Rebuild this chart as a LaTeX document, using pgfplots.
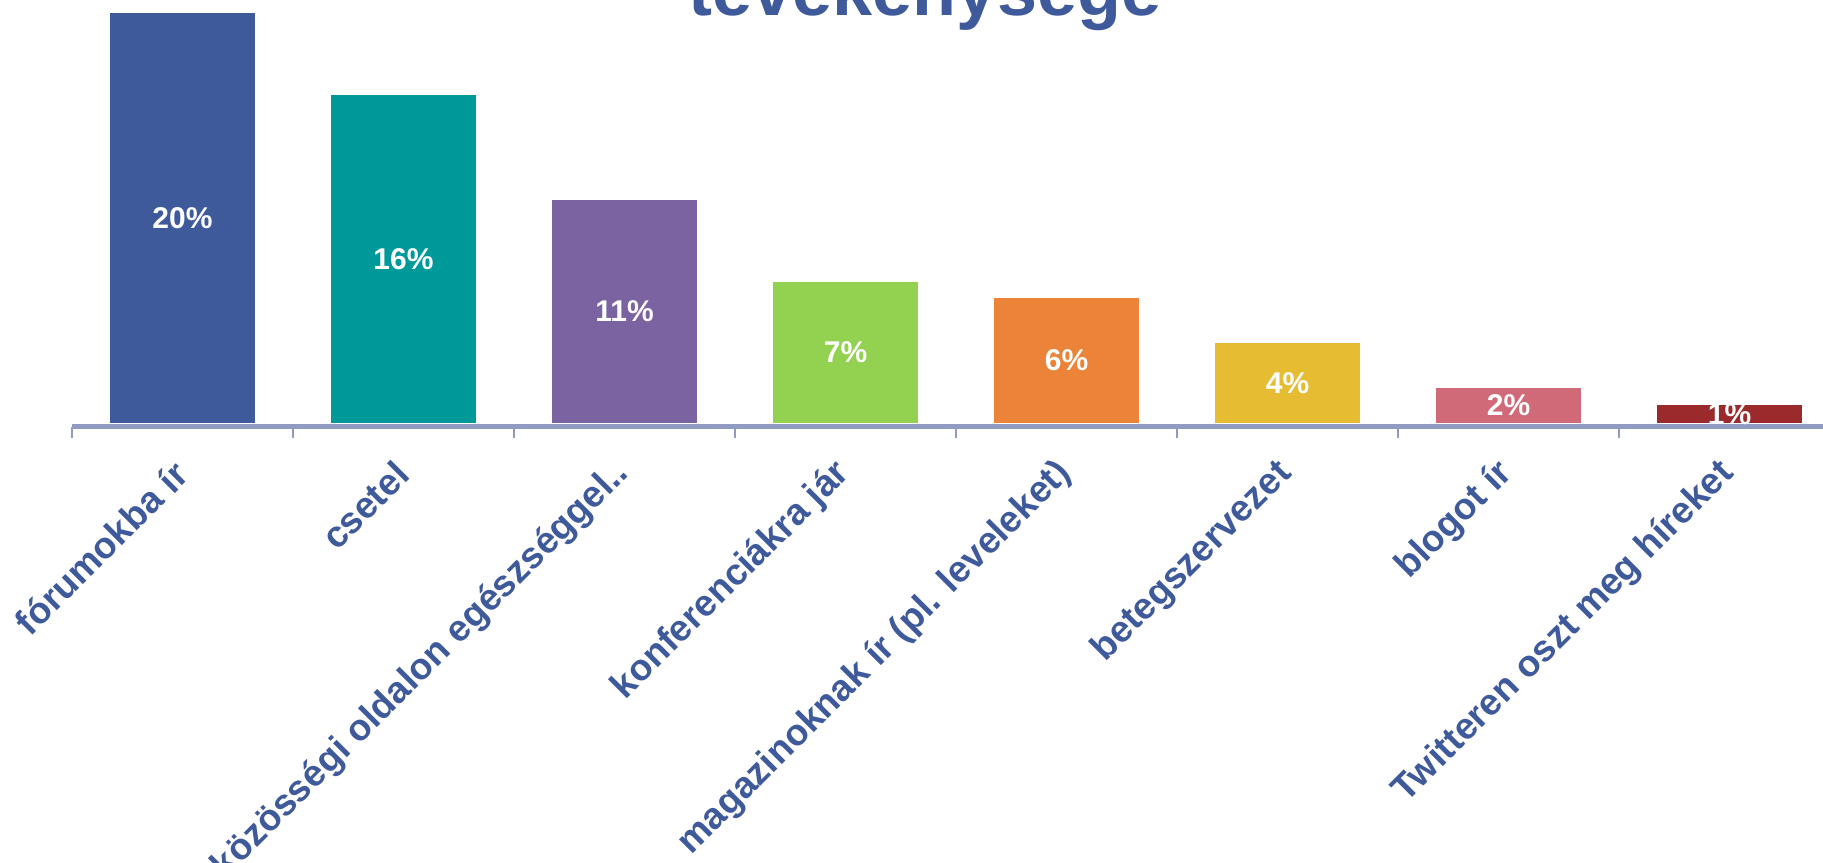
\documentclass[border=0pt]{standalone}
\usepackage{pgfplots}
\pgfplotsset{compat=1.18}
\usepackage{pgfplotstable}
\usepackage{fontspec}
\setmainfont{Liberation Sans}

\definecolor{c0}{HTML}{3F5A9B}
\definecolor{c1}{HTML}{009999}
\definecolor{c2}{HTML}{7B62A0}
\definecolor{c3}{HTML}{93D150}
\definecolor{c4}{HTML}{EB8439}
\definecolor{c5}{HTML}{E6BC33}
\definecolor{c6}{HTML}{D16A78}
\definecolor{c7}{HTML}{9A2A2B}
\definecolor{axc}{HTML}{8F9BC0}

% value (percent) and the rounded label shown on the bar
\pgfplotstableread{
x v lab
0 20.0 20
1 16.0 16
2 10.9 11
3 6.9 7
4 6.1 6
5 3.9 4
6 1.7 2
7 0.9 1
}\data

\begin{document}
\begin{tikzpicture}
\begin{axis}[
  scale only axis,
  width=884pt, height=213.25pt,
  xmin=-0.5, xmax=7.5,
  ymin=-0.171, ymax=20.634,
  axis x line*=bottom,
  hide y axis,
  x axis line style={draw=axc, line width=2.25pt},
  xtick={0,...,7},
  xticklabels={fórumokba ír, csetel, közösségi oldalon egészséggel.., konferenciákra jár, magazinoknak ír (pl. leveleket), betegszervezet, blogot ír, Twitteren oszt meg híreket},
  major tick length=0pt,
  minor xtick={-0.5,0.5,...,7.5},
  minor tick length=5.5pt,
  tick align=outside,
  minor x tick style={draw=axc, line width=0.85pt},
  xticklabel style={rotate=45, anchor=east, inner sep=0pt, xshift=-15pt, yshift=-14.25pt,
    font=\fontsize{18.5}{22}\selectfont\bfseries, text=c0},
  /pgf/number format/assume math mode=true,
  clip=false,
  mybar/.style={ybar, bar width=72.5pt, bar shift=0pt, draw=none, fill=#1},
]
\pgfplotsinvokeforeach{0,...,7}{
  \addplot[mybar=c#1, restrict expr to domain={\coordindex}{#1:#1}] table[x=x, y=v] {\data};
}
% labels sit in the middle of each bar
\addplot[only marks, mark=*, mark size=0pt, mark options={draw=none, fill=none},
  point meta=explicit,
  nodes near coords={\pgfmathprintnumber{\pgfplotspointmeta}\%},
  every node near coord/.append style={anchor=center, text=white,
    font=\fontsize{15}{18}\selectfont\bfseries}]
  table[x=x, y expr=\thisrow{v}/2, meta=lab] {\data};
\end{axis}
\node[anchor=base, font=\fontsize{36}{40}\selectfont\bfseries, text=c0] at (426.5pt,205.25pt) {tevékenysége};
\pgfresetboundingbox
\path[use as bounding box] (-36pt,-217.75pt) rectangle (875.5pt,213.25pt);
\end{tikzpicture}
\end{document}
